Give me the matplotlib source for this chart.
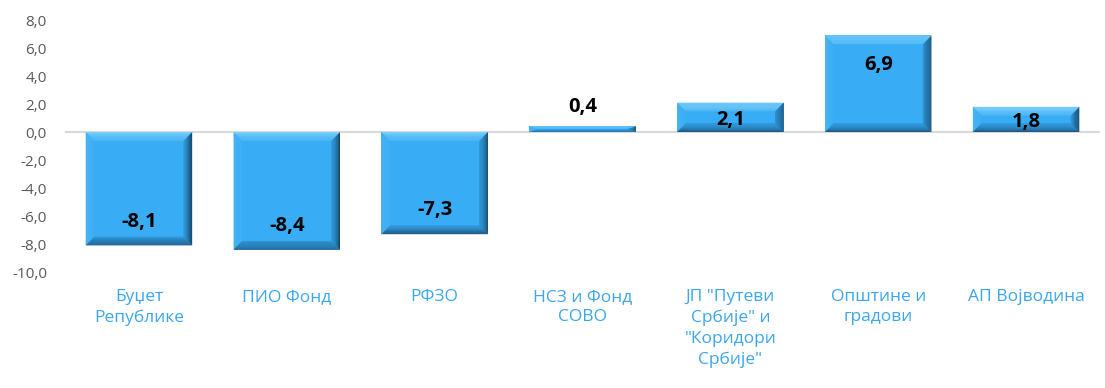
import matplotlib
matplotlib.use('Agg')
import matplotlib.pyplot as plt
from matplotlib.patches import Polygon
from matplotlib.colors import to_rgb
import numpy as np

plt.rcParams['font.family'] = ['Open Sans', 'DejaVu Sans']

# 데이터
categories = ['Буџет\nРепублике', 'ПИО Фонд', 'РФЗО', 'НСЗ и Фонд\nСОВО',
              'ЈП "Путеви\nСрбије" и\n"Коридори\nСрбије"', 'Општине и\nградови',
              'АП Војводина']
values = [-8.1, -8.4, -7.3, 0.4, 2.1, 6.9, 1.8]
yticks = [8, 6, 4, 2, 0, -2, -4, -6, -8, -10]

face = '#38ACF4'
label_blue = '#3BA6EC'
# 베벨 색 (바깥쪽 -> 안쪽)
bevel_cols = {
    'left': ('#4AB6F6', '#3DAFF5'),
    'top': ('#86D3FB', '#52BBF7'),
    'right': ('#123A57', '#2F93D2'),
    'bottom': ('#1C4D74', '#2E96D8'),
}


def mix(c1, c2, t):
    a = np.array(to_rgb(c1))
    b = np.array(to_rgb(c2))
    return tuple(a + (b - a) * t)


fig = plt.figure(figsize=(11.05, 3.88), dpi=100)
ax = fig.add_axes([65 / 1105, 116 / 388, 1035 / 1105, 252 / 388])

x = np.arange(len(values))
width = 0.72
bars = ax.bar(x, values, width=width, color=face, edgecolor='none', zorder=2)

# 베벨 효과 (그라데이션 띠)
bx = 0.058
by = 0.62
n = 8
for rect, v in zip(bars, values):
    x0 = rect.get_x()
    x1 = x0 + rect.get_width()
    y_lo = min(0, v)
    y_hi = max(0, v)
    DY = min(by, (y_hi - y_lo) / 2)
    DX = bx
    for i in range(n):
        a = i / n
        b = (i + 1) / n
        dxa, dxb = DX * a, DX * b
        dya, dyb = DY * a, DY * b
        t = (i + 0.5) / n
        sides = {
            'left': [(x0 + dxa, y_lo + dya), (x0 + dxa, y_hi - dya),
                     (x0 + dxb, y_hi - dyb), (x0 + dxb, y_lo + dyb)],
            'right': [(x1 - dxa, y_lo + dya), (x1 - dxa, y_hi - dya),
                      (x1 - dxb, y_hi - dyb), (x1 - dxb, y_lo + dyb)],
            'top': [(x0 + dxa, y_hi - dya), (x1 - dxa, y_hi - dya),
                    (x1 - dxb, y_hi - dyb), (x0 + dxb, y_hi - dyb)],
            'bottom': [(x0 + dxa, y_lo + dya), (x1 - dxa, y_lo + dya),
                       (x1 - dxb, y_lo + dyb), (x0 + dxb, y_lo + dyb)],
        }
        for side, pts in sides.items():
            c_out, c_in = bevel_cols[side]
            ax.add_patch(Polygon(pts, closed=True, facecolor=mix(c_out, c_in, t ** 0.7),
                                 edgecolor='none', zorder=3))

# 값 레이블
for xi, v in zip(x, values):
    if abs(v) < 1:
        pos = v + 1.4
    else:
        pos = np.sign(v) * max(abs(v) - 1.9, abs(v) / 2) - 0.2
    ax.text(xi, pos, f'{v:.1f}'.replace('.', ','), ha='center', va='center',
            fontsize=14.5, fontweight='bold', color='black', zorder=4)

ax.axhline(0, color='#D9D9D9', linewidth=1.5, zorder=1)

ax.set_ylim(-10, 8)
ax.set_xlim(-0.5, len(values) - 0.5)
ax.set_yticks(yticks)
ax.set_yticklabels([f'{t:.1f}'.replace('.', ',') for t in yticks], color='#595959', fontsize=11)
ax.set_xticks(x)
ax.set_xticklabels(categories, color=label_blue, fontsize=12.5, linespacing=1.4, va='top')
ax.tick_params(axis='y', length=0, pad=13)
ax.tick_params(axis='x', length=0, pad=12)
for s in ax.spines.values():
    s.set_visible(False)

fig.savefig('out.png', dpi=100)
